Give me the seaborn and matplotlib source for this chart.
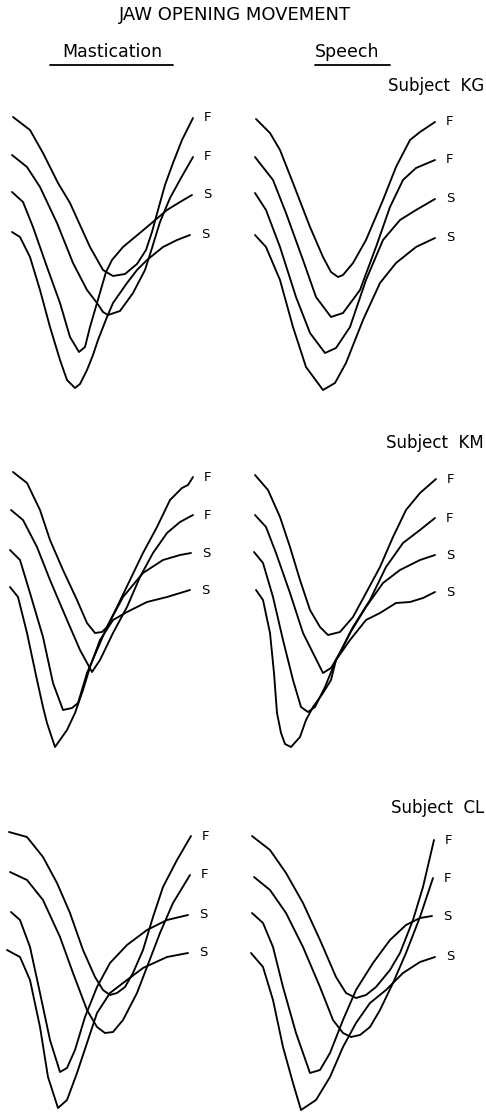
import matplotlib
matplotlib.use('Agg')
import matplotlib.pyplot as plt
import pandas as pd
import seaborn as sns
from matplotlib.lines import Line2D

curve_labels = ['F', 'F', 'S', 'S']
subjects = ['KG', 'KM', 'CL']
conditions = ['Mastication', 'Speech']

kg_mast_t = [
    [13, 30, 43, 58, 70, 80, 90, 103, 113, 125, 137, 146, 152, 158, 165, 173, 182, 193],
    [12, 27, 40, 57, 73, 87, 97, 103, 108, 120, 133, 145, 152, 160, 170, 181, 193],
    [12, 23, 33, 47, 60, 70, 79, 85, 90, 97, 106, 112, 123, 147, 167, 180, 192],
    [12, 20, 30, 40, 50, 60, 67, 75, 80, 87, 93, 98, 107, 113, 127, 137, 147, 163, 177, 190],
]
kg_mast_y = [
    [27, 40, 63, 93, 113, 135, 157, 180, 186, 184, 174, 160, 142, 120, 95, 73, 50, 28],
    [65, 77, 97, 133, 173, 200, 213, 222, 225, 221, 203, 180, 158, 132, 108, 88, 67],
    [102, 112, 137, 177, 213, 247, 262, 257, 237, 213, 182, 170, 157, 137, 120, 112, 105],
    [142, 147, 167, 200, 237, 270, 290, 298, 294, 280, 265, 250, 227, 213, 193, 180, 170, 157, 150, 145],
]
kg_speech_t = [
    [13, 27, 37, 50, 67, 80, 88, 95, 100, 110, 123, 140, 153, 167, 177, 192],
    [12, 30, 43, 60, 73, 88, 100, 117, 133, 147, 160, 173, 192],
    [12, 23, 37, 53, 67, 82, 93, 107, 123, 140, 157, 173, 192],
    [12, 23, 37, 50, 63, 80, 92, 103, 120, 137, 153, 173, 192],
]
kg_speech_y = [
    [29, 43, 60, 93, 137, 167, 182, 187, 185, 173, 150, 110, 77, 50, 42, 32],
    [67, 90, 123, 170, 207, 227, 223, 200, 157, 117, 90, 78, 70],
    [103, 120, 157, 207, 243, 263, 258, 237, 190, 150, 130, 120, 109],
    [145, 157, 190, 237, 277, 300, 293, 273, 230, 193, 173, 157, 148],
]
km_mast_t = [
    [13, 27, 40, 50, 63, 77, 87, 95, 102, 107, 117, 130, 143, 157, 170, 182, 188, 193],
    [11, 23, 37, 50, 67, 80, 92, 100, 113, 127, 140, 153, 167, 180, 193],
    [10, 20, 30, 43, 53, 63, 72, 78, 87, 97, 107, 123, 143, 163, 180, 191],
    [10, 18, 27, 37, 43, 47, 55, 67, 75, 83, 90, 100, 113, 127, 147, 167, 190],
]
km_mast_y = [
    [42, 53, 80, 110, 140, 170, 193, 203, 202, 197, 177, 150, 123, 97, 70, 58, 55, 47],
    [80, 90, 117, 150, 190, 220, 242, 230, 203, 177, 147, 123, 103, 92, 85],
    [120, 130, 163, 207, 253, 280, 278, 273, 243, 220, 197, 167, 143, 130, 125, 123],
    [157, 167, 203, 250, 277, 293, 317, 300, 283, 260, 237, 210, 190, 182, 172, 167, 160],
]
km_speech_t = [
    [12, 25, 37, 47, 57, 67, 77, 85, 97, 110, 123, 137, 150, 163, 177, 193],
    [12, 23, 33, 47, 60, 72, 80, 88, 97, 110, 127, 143, 160, 177, 192],
    [11, 20, 30, 40, 50, 58, 65, 72, 82, 93, 107, 123, 140, 157, 177, 192],
    [13, 20, 27, 31, 34, 38, 42, 48, 57, 63, 70, 80, 88, 93, 107, 123, 137, 153, 167, 180, 192],
]
km_speech_y = [
    [45, 60, 87, 117, 150, 180, 197, 205, 202, 187, 163, 137, 107, 80, 63, 49],
    [85, 97, 123, 163, 203, 227, 243, 238, 223, 197, 170, 137, 113, 100, 88],
    [122, 133, 167, 210, 250, 277, 282, 277, 257, 230, 203, 177, 153, 140, 130, 125],
    [160, 170, 203, 243, 283, 303, 314, 317, 307, 290, 277, 263, 250, 230, 210, 190, 183, 173, 172, 168, 162],
]
cl_mast_t = [
    [9, 27, 43, 57, 70, 83, 95, 103, 110, 117, 125, 133, 143, 153, 163, 177, 191],
    [10, 27, 43, 60, 73, 87, 97, 105, 113, 123, 137, 147, 160, 173, 190],
    [11, 20, 30, 40, 50, 60, 67, 75, 85, 97, 110, 127, 147, 167, 188],
    [7, 20, 30, 40, 48, 58, 67, 77, 87, 97, 110, 123, 143, 167, 188],
]
cl_mast_y = [
    [42, 47, 67, 93, 123, 160, 187, 200, 205, 203, 197, 183, 160, 127, 97, 70, 46],
    [82, 90, 110, 147, 183, 220, 237, 243, 242, 230, 203, 177, 143, 113, 85],
    [122, 130, 157, 203, 250, 282, 278, 260, 227, 197, 173, 155, 140, 130, 125],
    [160, 167, 190, 237, 287, 318, 310, 283, 253, 223, 203, 193, 178, 167, 163],
]
cl_speech_t = [
    [9, 27, 43, 60, 77, 93, 103, 113, 123, 133, 147, 157, 170, 180, 191],
    [11, 27, 43, 60, 77, 90, 100, 108, 117, 127, 137, 150, 163, 177, 190],
    [9, 20, 30, 40, 53, 67, 77, 87, 100, 113, 130, 147, 163, 177, 189],
    [8, 20, 30, 40, 50, 58, 73, 87, 100, 113, 127, 143, 160, 177, 192],
]
cl_speech_y = [
    [46, 60, 83, 113, 150, 187, 203, 208, 205, 197, 180, 163, 130, 97, 50],
    [87, 100, 123, 157, 197, 230, 243, 247, 245, 237, 220, 193, 163, 127, 88],
    [123, 133, 157, 197, 243, 283, 280, 263, 230, 200, 173, 150, 135, 128, 126],
    [163, 177, 210, 257, 293, 320, 310, 287, 257, 233, 213, 200, 183, 172, 167],
]

panels = [
    (kg_mast_t, kg_mast_y, kg_speech_t, kg_speech_y),
    (km_mast_t, km_mast_y, km_speech_t, km_speech_y),
    (cl_mast_t, cl_mast_y, cl_speech_t, cl_speech_y),
]

sns.set_style('white')
plt.rcParams['font.family'] = ['DejaVu Sans']
plt.rcParams['text.color'] = 'black'

W, H = 486, 1113
fig = plt.figure(figsize=(W / 100, H / 100), dpi=100)
fig.patch.set_facecolor('white')

row_tops = [90, 430, 790]
panel_h = 323
panel_w = 243

for r, (mt, my, st, sy) in enumerate(panels):
    for c, (tt, yy) in enumerate([(mt, my), (st, sy)]):
        ax = fig.add_axes([c * panel_w / W, 1 - (row_tops[r] + panel_h) / H,
                           panel_w / W, panel_h / H])
        for i in range(4):
            df = pd.DataFrame({'t': tt[i], 'y': yy[i]})
            sns.lineplot(data=df, x='t', y='y', sort=False, estimator=None,
                         color='black', lw=1.35, ax=ax)
            ax.lines[-1].set_solid_joinstyle('round')
            ax.lines[-1].set_solid_capstyle('round')
            ax.annotate(curve_labels[i], (tt[i][-1], yy[i][-1]),
                        xytext=(8, 0), textcoords='offset points',
                        ha='left', va='center', fontsize=9.5, color='black')
        ax.set_xlim(0, panel_w)
        ax.set_ylim(panel_h, 0)
        ax.set_axis_off()

fig.text(235 / W, 1 - 15 / H, 'JAW OPENING MOVEMENT', ha='center', va='center',
         fontsize=13, color='black')
fig.text(112 / W, 1 - 52 / H, 'Mastication', ha='center', va='center',
         fontsize=12.5, color='black')
fig.text(347 / W, 1 - 52 / H, 'Speech', ha='center', va='center',
         fontsize=12.5, color='black')
fig.add_artist(Line2D([50 / W, 173 / W], [1 - 65 / H, 1 - 65 / H], color='black', lw=1.3))
fig.add_artist(Line2D([315 / W, 390 / W], [1 - 65 / H, 1 - 65 / H], color='black', lw=1.3))

subj_y = [86, 443, 808]
for s, yv in zip(subjects, subj_y):
    fig.text(484 / W, 1 - yv / H, 'Subject  ' + s, ha='right', va='center',
             fontsize=12, color='black')

fig.savefig('out.png', dpi=100)
